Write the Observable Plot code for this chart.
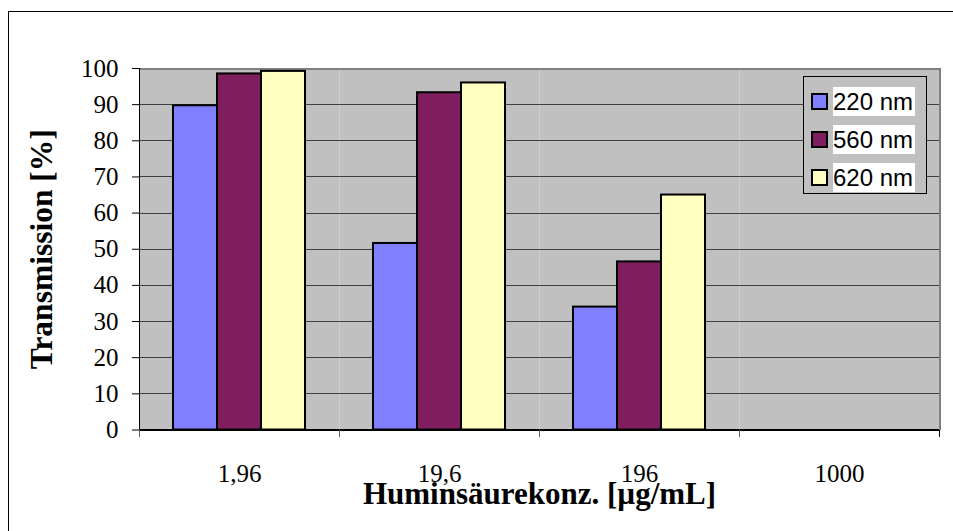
<!DOCTYPE html>
<html>
<head>
<meta charset="utf-8">
<script src="https://cdn.jsdelivr.net/npm/d3@7"></script>
<script src="https://cdn.jsdelivr.net/npm/@observablehq/plot@0.6"></script>
<style>
  html, body { margin: 0; padding: 0; background: #fff; overflow: hidden; }
  #wrap { position: relative; width: 953px; height: 531px; }
  #border { position: absolute; left: 7.5px; top: 10.5px; width: 1000px; height: 600px; border: 1px solid #000; box-sizing: border-box; }
  #chart { position: absolute; left: 0; top: 0; }
  #chart svg { font-family: "Liberation Serif", "Times New Roman", serif; }
  [aria-label="fx-axis label"] text { font-size: 31px; font-weight: bold; }
  [aria-label="y-axis label"] text { font-size: 31.5px; font-weight: bold; }
  [aria-label="rule"] line { shape-rendering: crispEdges; }
  #legend { position: absolute; left: 803px; top: 76px; width: 124px; height: 118px; background: #c0c0c0; border: 1.5px solid #000; box-sizing: border-box; font-family: "Liberation Sans", Arial, sans-serif; }
  .row { position: absolute; left: 7px; height: 29px; display: flex; align-items: center; }
  .sw { width: 13px; height: 13px; border: 2px solid #000; margin-right: 5px; }
  .lt { background: #fff; font-size: 24px; line-height: 29px; padding: 0 2px 0 0; }
</style>
</head>
<body>
<div id="wrap">
  <div id="border"></div>
  <div id="chart"></div>
  <div id="legend"></div>
</div>
<script>
const categories = ["1,96", "19,6", "196", "1000"];
const series = ["220 nm", "560 nm", "620 nm"];
const v220 = [89.7, 51.6, 34.0, null];
const v560 = [98.5, 93.3, 46.5, null];
const v620 = [99.2, 96.0, 65.0, null];
const yTicks = [0, 10, 20, 30, 40, 50, 60, 70, 80, 90, 100];
const colors = ["#8080FF", "#7F1F5F", "#FFFFC0"];

const valuesBySeries = [v220, v560, v620];
const data = categories.flatMap((c, i) =>
  series.map((s, j) => ({cat: c, series: s, value: valuesBySeries[j][i]}))
);

const W = 953, H = 531, mL = 139, mR = 14, mT = 68, mB = 101.5;
const facetW = (W - mL - mR) / categories.length;

const chart = Plot.plot({
  width: W, height: H,
  marginLeft: mL, marginRight: mR, marginTop: mT, marginBottom: mB,
  fx: {domain: categories, padding: 0, axis: null},
  x: {domain: series, paddingInner: 0, paddingOuter: 0.739, align: 0.5, axis: null},
  y: {domain: [0, 100], axis: null},
  color: {domain: series, range: colors},
  marks: [
    Plot.frame({fill: "#c0c0c0", stroke: null}),
    Plot.ruleY(yTicks.filter(d => d > 0 && d < 100), {stroke: "#404040", strokeWidth: 1}),
    Plot.ruleY([100], {stroke: "#808080", strokeWidth: 2}),
    Plot.ruleX([categories[categories.length - 1]], {fx: d => d, x: null, y1: 0, y2: 100, dx: facetW / 2, stroke: "#808080", strokeWidth: 2}),
    Plot.barY(data, {fx: "cat", x: "series", y: "value", fill: "series", stroke: "#000", strokeWidth: 2}),
    Plot.ruleY([0], {stroke: "#000", strokeWidth: 1.5}),
    Plot.ruleX([categories[0]], {fx: d => d, x: null, y1: 0, y2: 100, dx: -facetW / 2, stroke: "#000", strokeWidth: 1}),
    Plot.ruleX(categories, {fx: d => d, x: null, y1: 0, y2: -2, dx: -facetW / 2, stroke: "#606060", strokeWidth: 1.5}),
    Plot.ruleX([categories[categories.length - 1]], {fx: d => d, x: null, y1: 0, y2: -2, dx: facetW / 2, stroke: "#000", strokeWidth: 1}),
    Plot.axisY({ticks: yTicks, tickSize: 7, tickPadding: 14, fontSize: 25, stroke: "#000",
      label: "Transmission [%]", labelAnchor: "center", labelOffset: 110, labelArrow: false}),
    Plot.axisFx({anchor: "bottom", tickSize: 0, tickPadding: 34, fontSize: 25,
      label: "Huminsäurekonz. [µg/mL]", labelAnchor: "center", labelOffset: 74, labelArrow: false})
  ]
});
document.getElementById("chart").appendChild(chart);

const legend = document.getElementById("legend");
const rowTops = [10, 48, 86];
series.forEach((s, j) => {
  const row = document.createElement("div");
  row.className = "row";
  row.style.top = rowTops[j] + "px";
  const sw = document.createElement("div");
  sw.className = "sw";
  sw.style.background = colors[j];
  const lt = document.createElement("span");
  lt.className = "lt";
  lt.textContent = s;
  row.appendChild(sw);
  row.appendChild(lt);
  legend.appendChild(row);
});
</script>
</body>
</html>
